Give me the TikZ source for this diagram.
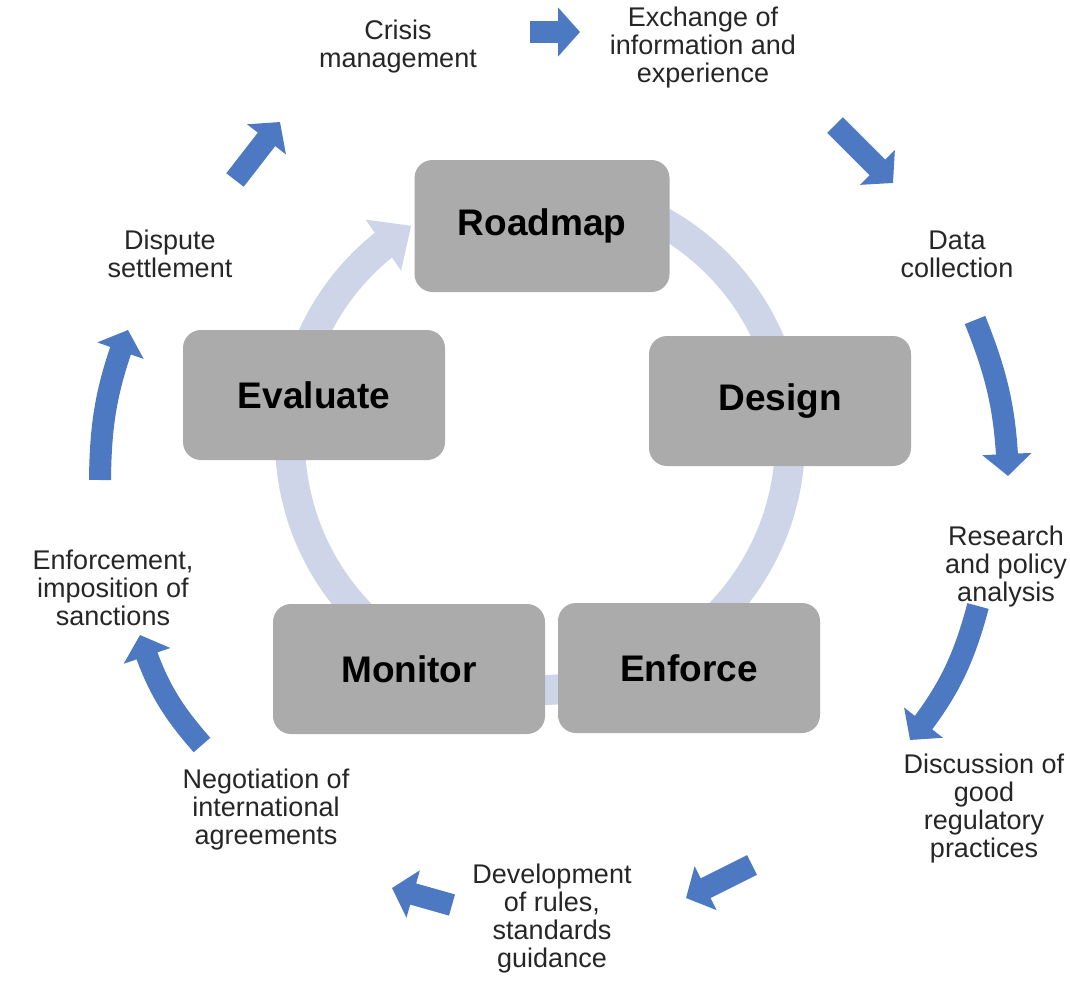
\documentclass[tikz,border=0pt]{standalone}
\usepackage{fontspec}
\setmainfont{Liberation Sans}
\usetikzlibrary{arrows.meta,bending}
\definecolor{phasegray}{RGB}{171,171,171}
\definecolor{ringblue}{RGB}{207,213,232}
\definecolor{flowblue}{RGB}{76,121,193}

\begin{document}
\begin{tikzpicture}[x=1pt,y=1pt,
    phase/.style={fill=phasegray, rounded corners=18pt, minimum width=262pt, minimum height=130pt,
        inner sep=0pt, font=\fontsize{37}{40}\selectfont\bfseries},
    task/.style={align=center, text=black!85, font=\fontsize{27}{28}\selectfont},
    flow/.style={draw=flowblue, line width=22pt, -{Triangle[width=48pt,length=22pt]}},
    ring/.style={draw=ringblue, line width=30pt, -{Triangle[width=60pt,length=34pt]}}]

    \useasboundingbox (0,0) rectangle (1070,-993);

    % light loop behind the phases
    \coordinate (hub) at (540,-440);
    \draw[ring] ([shift={(100:250)}]hub) arc[start angle=100, end angle=-239, radius=250];

    % phases
    \node[phase, minimum width=255pt, minimum height=132pt] (roadmap) at (542,-226) {Roadmap};
    \node[phase] (design) at (780,-401) {Design};
    \node[phase] (enforce) at (689,-668) {Enforce};
    \node[phase, minimum width=272pt] (monitor) at (409,-669) {Monitor};
    \node[phase] (evaluate) at (314,-395) {Evaluate};

    % tasks round the outside
    \node[task] (crisis) at (398,-47) {Crisis\\management};
    \node[task] (exchange) at (703,-48) {Exchange of\\information and\\experience};
    \node[task] (data) at (957,-254) {Data\\collection};
    \node[task] (research) at (1006,-567) {Research\\and policy\\analysis};
    \node[task] (discussion) at (984,-809) {Discussion of\\good\\regulatory\\practices};
    \node[task] (development) at (552,-919) {Development\\of rules,\\standards\\guidance};
    \node[task] (negotiation) at (266,-810) {Negotiation of\\international\\agreements};
    \node[task] (enforcement) at (113,-588) {Enforcement,\\imposition of\\sanctions};
    \node[task] (dispute) at (170,-254) {Dispute\\settlement};

    % ends of the blue arrows
    \coordinate (crisis-out) at (530,-32);   \coordinate (exchange-in) at (580,-32);
    \coordinate (exchange-out) at (835,-125); \coordinate (data-in) at (893,-183);
    \coordinate (data-out) at (975,-320);    \coordinate (research-in) at (1008,-476);
    \coordinate (research-out) at (978,-606); \coordinate (discussion-in) at (910,-740);
    \coordinate (discussion-out) at (752,-865); \coordinate (development-in) at (686,-898);
    \coordinate (development-out) at (452,-905); \coordinate (negotiation-in) at (392,-888);
    \coordinate (negotiation-out) at (202,-745); \coordinate (enforcement-in) at (140,-635);
    \coordinate (enforcement-out) at (100,-480); \coordinate (dispute-in) at (128,-330);
    \coordinate (dispute-out) at (235,-180);  \coordinate (crisis-in) at (280,-122);

    \draw[flow] (crisis-out) -- (exchange-in);
    \draw[flow] (exchange-out) -- (data-in);
    \draw[flow] (data-out) to[bend left=10] (research-in);
    \draw[flow] (research-out) to[bend left=12] (discussion-in);
    \draw[flow] (discussion-out) -- (development-in);
    \draw[flow] (development-out) -- (negotiation-in);
    \draw[flow] (negotiation-out) to[bend left=12] (enforcement-in);
    \draw[flow] (enforcement-out) to[bend left=10] (dispute-in);
    \draw[flow] (dispute-out) -- (crisis-in);
\end{tikzpicture}
\end{document}
